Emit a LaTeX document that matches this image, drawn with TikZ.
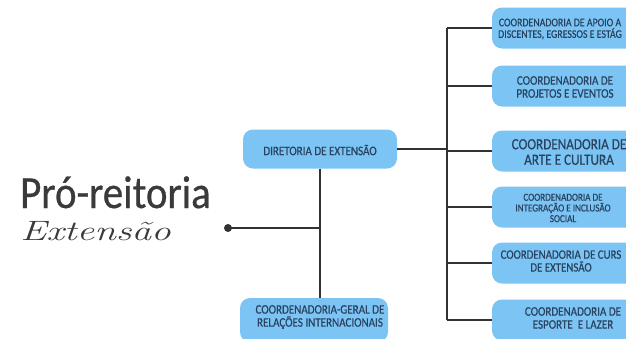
\documentclass[tikz,border=0pt]{standalone}
\usepackage{fontspec}
\setmainfont{Carlito}
\newfontfamily\titlefont{Carlito}[FakeBold=0.6, FakeStretch=0.89]
\newfontfamily\boxfont{Carlito}[FakeBold=0.5, FakeStretch=0.85]
\newfontfamily\cursivefont{Latin Modern Roman}
\definecolor{boxblue}{RGB}{124,196,244}
\definecolor{boxtext}{RGB}{40,66,96}
\definecolor{linegray}{RGB}{50,50,50}
\definecolor{titlegray}{RGB}{58,58,58}
\tikzset{
  boxshape/.style={fill=boxblue, rounded corners=10pt, inner sep=0pt},
  rbox/.style={boxshape, minimum width=148pt, minimum height=41pt},
  boxlabel/.style={align=center, text=boxtext, inner sep=0pt},
  conn/.style={draw=linegray, line width=1.8pt},
}
\newcommand{\bx}[1]{\boxfont\fontsize{#1}{#1}\selectfont}
\begin{document}
\begin{tikzpicture}[x=1pt,y=-1pt]
\useasboundingbox (0,0) rectangle (626,338);
\clip (0,0) rectangle (626,338);
% title
\node[anchor=base west, inner sep=0, text=titlegray, font=\titlefont\fontsize{46}{46}\selectfont] (title) at (20,208) {Pró-reitoria};
\node[anchor=base west, inner sep=0, text=titlegray, xscale=1.4, font=\cursivefont\itshape\fontsize{28}{28}\selectfont] (sub) at (20,240) {Extensão};
% left boxes
\node[boxshape, minimum width=154pt, minimum height=39pt] (dir) at (320,149) {};
\node[boxlabel, font=\bx{13}] (dirt) at (320,150) {DIRETORIA DE EXTENSÃO};
\node[boxshape, minimum width=148pt, minimum height=44pt] (rel) at (314,320) {};
\node[boxlabel, font=\bx{13}] (relt) at (320,317) {COORDENADORIA-GERAL DE\\RELAÇÕES INTERNACIONAIS};
% right boxes
\node[rbox] (b1) at (566,28) {};
\node[boxlabel, font=\bx{11.6}] (b1t) at (560,29) {COORDENADORIA DE APOIO A\\DISCENTES, EGRESSOS E ESTÁG};
\node[rbox] (b2) at (566,86) {};
\node[boxlabel, font=\bx{13}] (b2t) at (565,87) {COORDENADORIA DE\\PROJETOS E EVENTOS};
\node[rbox] (b3) at (566,151) {};
\node[boxlabel, font=\bx{15.5}] (b3t) at (569,152) {COORDENADORIA DE\\ARTE E CULTURA};
\node[rbox] (b4) at (566,207) {};
\node[boxlabel, font=\bx{10.7}] (b4t) at (563,208) {COORDENADORIA DE\\INTEGRAÇÃO E INCLUSÃO\\SOCIAL};
\node[rbox] (b5) at (566,263) {};
\node[boxlabel, font=\bx{12.8}] (b5t) at (561,261) {COORDENADORIA DE CURS\\DE EXTENSÃO};
\node[rbox] (b6) at (566,320) {};
\node[boxlabel, font=\bx{13}] (b6t) at (573,318) {COORDENADORIA DE\\ESPORTE\ \ E LAZER};
% trunk
\coordinate (tx) at (447,0);
\coordinate (t1) at (b1.west -| tx);
\coordinate (t6) at (b6.west -| tx);
\draw[conn] (t1) -- (t6);
\foreach \b in {b1,b2,b3,b4,b5,b6} { \draw[conn] (\b.west) -- (\b.west -| tx); }
\draw[conn] (dir.east) -- (dir.east -| tx);
% left branch
\draw[conn] (dir.south) -- (rel.north -| dir.south);
\fill[linegray] (228,228) circle (4pt) coordinate (dot);
\draw[conn] (dot) -- (dot -| dir.south);
\end{tikzpicture}
\end{document}
